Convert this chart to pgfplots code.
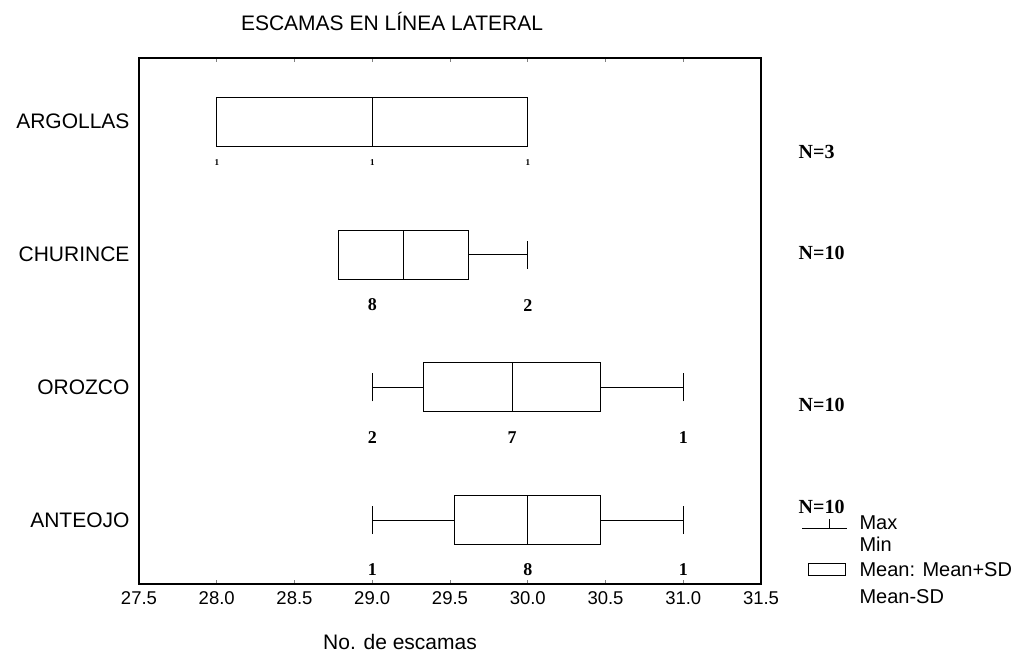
\documentclass[border=0pt]{standalone}
\usepackage{pgfplots}
\pgfplotsset{compat=1.18}
\usepgfplotslibrary{statistics}
\usepackage{fontspec}
\setmainfont{Liberation Sans}
\newfontfamily\serifb{Liberation Serif}
\begin{document}
\begin{tikzpicture}[x=1pt,y=1pt]
\useasboundingbox (0pt,0pt) rectangle (1025pt,655pt);
\begin{axis}[
  at={(139pt,71pt)}, anchor=south west,
  scale only axis, width=622pt, height=526pt,
  xmin=27.5, xmax=31.5, ymin=0.52, ymax=4.48,
  xtick={27.5,28.0,28.5,29.0,29.5,30.0,30.5,31.0,31.5},
  xticklabel style={font=\fontsize{18.5}{22}\selectfont, yshift=-4pt,
    /pgf/number format/.cd, fixed, fixed zerofill, precision=1, assume math mode=true},
  ytick={1,2,3,4},
  yticklabels={ANTEOJO,OROZCO,CHURINCE,ARGOLLAS},
  yticklabel style={font=\fontsize{21}{24}\selectfont, xshift=-6pt},
  ytick style={draw=none},
  xtick style={line width=1pt},
  major tick length=4pt,
  axis line style={line width=1.6pt},
  boxplot/draw direction=x,
  clip=false,
]
% ARGOLLAS
\addplot[black, line width=1pt, boxplot prepared={draw position=4,
  lower whisker=28, lower quartile=28, median=29, upper quartile=30, upper whisker=30,
  box extend=0.37, whisker extend=0.21}] coordinates {};
% CHURINCE
\addplot[black, line width=1pt, boxplot prepared={draw position=3,
  lower whisker=28.78, lower quartile=28.78, median=29.2, upper quartile=29.62, upper whisker=30,
  box extend=0.37, whisker extend=0.21}] coordinates {};
% OROZCO
\addplot[black, line width=1pt, boxplot prepared={draw position=2,
  lower whisker=29, lower quartile=29.33, median=29.9, upper quartile=30.47, upper whisker=31,
  box extend=0.37, whisker extend=0.21}] coordinates {};
% ANTEOJO
\addplot[black, line width=1pt, boxplot prepared={draw position=1,
  lower whisker=29, lower quartile=29.53, median=30.0, upper quartile=30.47, upper whisker=31,
  box extend=0.37, whisker extend=0.21}] coordinates {};
% counts below boxes
\addplot[draw=none, mark=none, nodes near coords, point meta=explicit symbolic,
  nodes near coords style={anchor=center, font=\serifb\bfseries\fontsize{9}{10}\selectfont}]
  table[meta=lab] {
x y lab
28 3.69 1
29 3.69 1
30 3.69 1
};
\addplot[draw=none, mark=none, nodes near coords, point meta=explicit symbolic,
  nodes near coords style={anchor=center, font=\serifb\bfseries\fontsize{18}{20}\selectfont}]
  table[meta=lab] {
x y lab
29 2.62 8
30 2.62 2
29 1.62 2
29.9 1.62 7
31 1.62 1
29 0.63 1
30 0.63 8
31 0.63 1
};
% N labels
\addplot[draw=none, mark=none, nodes near coords, point meta=explicit symbolic,
  nodes near coords style={anchor=west, font=\serifb\bfseries\fontsize{20}{22}\selectfont}]
  table[meta=lab] {
x y lab
31.72 3.77 N=3
31.72 3.01 N=10
31.72 1.87 N=10
31.72 1.10 N=10
};
\end{axis}
% title and axis label
\node[font=\fontsize{21}{24}\selectfont] at (392pt,633pt) {ESCAMAS EN LÍNEA LATERAL};
\node[font=\fontsize{21}{24}\selectfont] at (400pt,13pt) {No. de escamas};
% legend
\draw[line width=1pt] (802pt,126pt) -- (847pt,126pt);
\draw[line width=1pt] (829pt,126pt) -- (829pt,136pt);
\node[anchor=west, font=\fontsize{20}{22}\selectfont] at (856pt,132pt) {Max};
\node[anchor=west, font=\fontsize{20}{22}\selectfont] at (856pt,111pt) {Min};
\draw[line width=1pt] (808pt,79pt) rectangle (845pt,91pt);
\node[anchor=west, font=\fontsize{20}{22}\selectfont] at (856pt,85pt) {Mean: Mean+SD};
\node[anchor=west, font=\fontsize{20}{22}\selectfont] at (856pt,58pt) {Mean-SD};
\end{tikzpicture}
\end{document}
